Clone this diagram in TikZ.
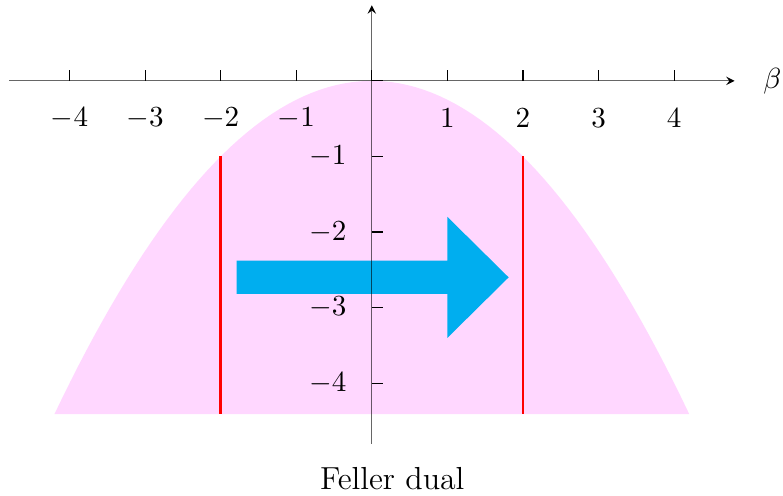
\documentclass[tikz,border=0pt]{standalone}
\usepackage{tikz}
\definecolor{dualpink}{RGB}{255,215,255}
\definecolor{dualcyan}{RGB}{0,174,239}
\tikzset{ticklabel/.style={font=\fontsize{10.9}{13}\selectfont}}
\begin{document}
\begin{tikzpicture}[>=stealth]
\useasboundingbox (-4.92,-5.49) rectangle (5.44,1.07);
\fill[dualpink] plot[domain=-4.2:4.2,samples=80] (\x,{-\x*\x/4}) -- cycle;
\draw[red, line width=0.9pt] (-2,-1) -- (-2,-4.41);
\draw[red, line width=0.9pt] (2,-1) -- (2,-4.41);
\fill[dualcyan] (-1.79,-2.38) -- (1.0,-2.38) -- (1.0,-1.8) -- (1.81,-2.6)
  -- (1.0,-3.4) -- (1.0,-2.82) -- (-1.79,-2.82) -- cycle;
\draw[->, draw opacity=0.6] (-4.8,0) -- (4.8,0);
\draw[->, draw opacity=0.6] (0,-4.8) -- (0,1.0);
\node[ticklabel] (beta) at (5.3,0) {$\beta$};
\foreach \x in {-4,-3,-2,-1,0,1,2,3,4}
  \draw (\x,0) -- (\x,0.14);
\foreach \x in {-4,-3,-2,-1,1,2,3,4}
  \node[ticklabel] (xl\x) at (\x,-0.49) {$\x$};
\foreach \y in {0,-1,-2,-3,-4}
  \draw (0,\y) -- (0.15,\y);
\foreach \y in {-1,-2,-3,-4}
  \node[ticklabel, anchor=east, inner sep=0] (yl\y) at (-0.33,\y) {$\y$};
\node (cap) at (0.27,-5.26) {\large Feller dual};
\end{tikzpicture}
\end{document}
